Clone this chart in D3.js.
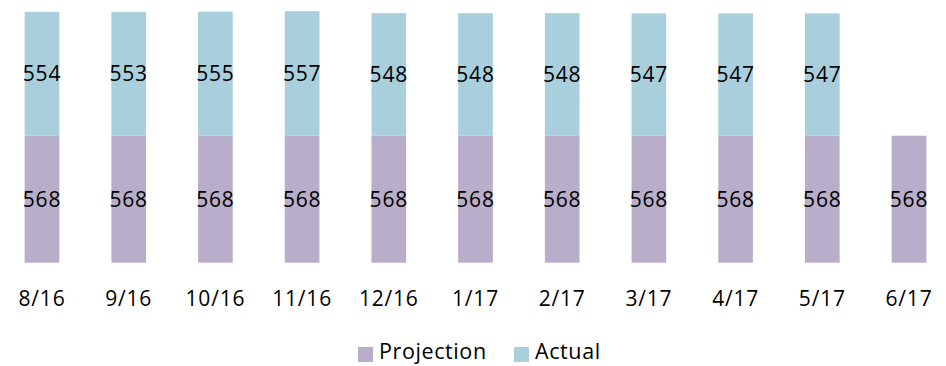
<!DOCTYPE html>
<html>
<head>
<meta charset="utf-8">
<script src="https://cdn.jsdelivr.net/npm/d3@7"></script>
<style>
  body { margin: 0; background: #fff; }
  svg { display: block; font-family: "Open Sans", sans-serif; }
</style>
</head>
<body>
<svg id="chart" width="946" height="366"></svg>
<script>
// chart data
const months = ['8/16', '9/16', '10/16', '11/16', '12/16', '1/17', '2/17', '3/17', '4/17', '5/17', '6/17'];
const projection = [568, 568, 568, 568, 568, 568, 568, 568, 568, 568, 568];
const actual = [554, 553, 555, 557, 548, 548, 548, 547, 547, 547, null];
const seriesNames = ['Projection', 'Actual'];
const seriesColors = ['#b9aeca', '#a9cfdc'];

const svg = d3.select('#chart');
const fontFamily = '"Open Sans", sans-serif';

const x = d3.scaleBand()
    .domain(months)
    .range([-1.35, 952.35])
    .paddingInner(0.6)
    .paddingOuter(0.3);

const y = d3.scaleLinear()
    .domain([0, 1175])
    .range([262.7, 0]);

const rows = months.map((m, i) => ({ month: m, Projection: projection[i], Actual: actual[i] || 0 }));
const layers = d3.stack().keys(seriesNames)(rows);

const groups = svg.append('g')
    .selectAll('g')
    .data(layers)
    .join('g')
    .attr('fill', (d, i) => seriesColors[i]);

groups.selectAll('rect')
    .data((d) => d.filter((p) => p[1] - p[0] > 0))
    .join('rect')
    .attr('x', (d) => x(d.data.month))
    .attr('width', x.bandwidth())
    .attr('y', (d) => y(d[1]))
    .attr('height', (d) => y(d[0]) - y(d[1]));

// value labels, centred in each segment
const labelSize = 21;
groups.each((layer, i, nodes) => {
    d3.select(nodes[i]).selectAll('text')
        .data(layer.filter((p) => p[1] - p[0] > 0))
        .join('text')
        .attr('x', (d) => x(d.data.month) + x.bandwidth() / 2)
        .attr('y', (d) => (y(d[0]) + y(d[1])) / 2 + labelSize * 0.36)
        .attr('text-anchor', 'middle')
        .attr('fill', '#000')
        .style('font-size', `${labelSize}px`)
        .style('letter-spacing', '0.8px')
        .text((d) => d[1] - d[0]);
});

// category axis, no line or ticks
const xAxis = svg.append('g')
    .attr('transform', 'translate(0,306)')
    .call(d3.axisBottom(x).tickSize(0).tickPadding(0));
xAxis.select('.domain').remove();
xAxis.selectAll('text')
    .attr('fill', '#000')
    .attr('dy', null)
    .attr('y', 0)
    .style('font-family', fontFamily)
    .style('font-size', '21px')
    .style('letter-spacing', '0.8px');

// legend
const legend = svg.append('g').attr('transform', 'translate(358,359)');
const legendX = [0, 156];
seriesNames.forEach((name, i) => {
    const item = legend.append('g').attr('transform', `translate(${legendX[i]},0)`);
    item.append('rect')
        .attr('x', 0)
        .attr('y', -12)
        .attr('width', 15)
        .attr('height', 15)
        .attr('fill', seriesColors[i]);
    item.append('text')
        .attr('x', 21)
        .attr('y', 0)
        .style('font-size', '21.5px')
        .style('letter-spacing', '0.6px')
        .attr('fill', '#000')
        .text(name);
});
</script>
</body>
</html>
